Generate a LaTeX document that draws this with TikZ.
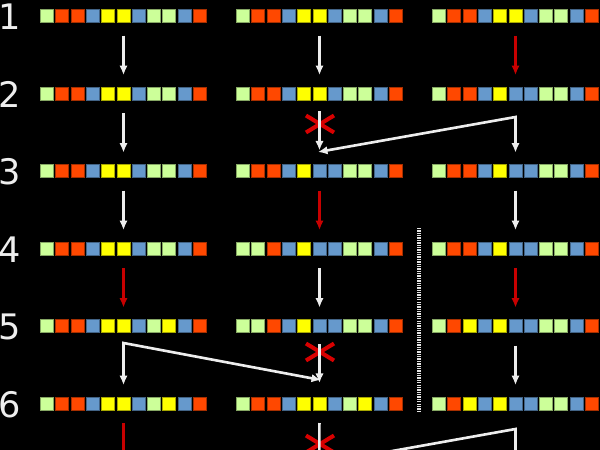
\documentclass[tikz,border=0pt]{standalone}
\usepackage{fontspec}
\setmainfont{DejaVu Sans}
\usetikzlibrary{arrows.meta}

\definecolor{cg}{HTML}{CCFF99}
\definecolor{cr}{HTML}{FF4800}
\definecolor{cb}{HTML}{6699CC}
\definecolor{cy}{HTML}{FFFF00}
\definecolor{flowred}{HTML}{C80000}
\definecolor{crossred}{HTML}{D80000}
\definecolor{lblgray}{HTML}{EEEEEE}

\tikzset{
  cell/.style={draw=#1!65!black, fill=#1, line width=0.5pt, minimum size=7.4pt, inner sep=0pt, outer sep=0pt},
  wflow/.style={draw=white!93!black, line width=1.5pt},
  rflow/.style={draw=flowred, line width=1.5pt},
  hop/.style={shorten <=7.4pt, shorten >=6.8pt},
  nogo/.style={draw=crossred, line width=2.3pt},
  sep/.style={draw=white!90!black, line width=2.4pt, dash pattern=on 0.75pt off 0.6pt},
  lbl/.style={text=lblgray, font=\fontsize{20pt}{24pt}\selectfont, inner sep=0pt}
}

% one register: name, left x, centre y, colours
\newcommand{\regrow}[4]{%
  \foreach \c [count=\i] in {#4}
    \node[cell=c\c] (#1-\i) at ({#2+15.3*(\i-1)+7}, #3) {};
}

\begin{document}
\begin{tikzpicture}[x=0.02cm, y=-0.02cm, >={Latex[length=5.4pt,width=4.8pt]}]

  % Background
  \useasboundingbox (0,0) rectangle (600,450);
  \clip (0,0) rectangle (600,450);
  \fill[black] (0,0) rectangle (600,450);

  % Step numbers
  \foreach \r in {1,...,6}
    \node[lbl] (l\r) at (9.5, {17+77.5*(\r-1)}) {\r};

  % Column 1
  \regrow{A1}{40}{16}{g,r,r,b,y,y,b,g,g,b,r}
  \regrow{A2}{40}{93.5}{g,r,r,b,y,y,b,g,g,b,r}
  \regrow{A3}{40}{171}{g,r,r,b,y,y,b,g,g,b,r}
  \regrow{A4}{40}{248.5}{g,r,r,b,y,y,b,g,g,b,r}
  \regrow{A5}{40}{326}{g,r,r,b,y,y,b,g,y,b,r}
  \regrow{A6}{40}{403.5}{g,r,r,b,y,y,b,g,y,b,r}

  % Column 2
  \regrow{B1}{236}{16}{g,r,r,b,y,y,b,g,g,b,r}
  \regrow{B2}{236}{93.5}{g,r,r,b,y,y,b,g,g,b,r}
  \regrow{B3}{236}{171}{g,r,r,b,y,b,b,g,g,b,r}
  \regrow{B4}{236}{248.5}{g,g,r,b,y,b,b,g,g,b,r}
  \regrow{B5}{236}{326}{g,g,r,b,y,b,b,g,g,b,r}
  \regrow{B6}{236}{403.5}{g,r,r,b,y,y,b,g,y,b,r}

  % Column 3
  \regrow{C1}{432}{16}{g,r,r,b,y,y,b,g,g,b,r}
  \regrow{C2}{432}{93.5}{g,r,r,b,y,b,b,g,g,b,r}
  \regrow{C3}{432}{171}{g,r,r,b,y,b,b,g,g,b,r}
  \regrow{C4}{432}{248.5}{g,r,r,b,y,b,b,g,g,b,r}
  \regrow{C5}{432}{326}{g,r,y,b,y,b,b,g,g,b,r}
  \regrow{C6}{432}{403.5}{g,r,y,b,y,b,b,g,g,b,r}

  % Separator
  \coordinate (d1) at (419,228);
  \coordinate (d2) at (419,411);
  \draw[sep] (d1) -- (d2);

  % Blocked steps
  \coordinate (x2) at (320,124);
  \coordinate (x5) at (320,352);
  \coordinate (x6) at (320,444);
  \foreach \x in {x2,x5,x6}
    \draw[nogo] (\x) +(-14,-8.5) -- +(14,8.5) +(-14,8.5) -- +(14,-8.5);

  % Corners of the split arrows and ends off the page
  \coordinate (k2) at (515.5,117);
  \coordinate (t2) at (318,152);
  \coordinate (k5) at (123.5,343);
  \coordinate (t5) at (321,380);
  \coordinate (k6) at (515.5,429);
  \coordinate (t6) at (319.5,464);
  \coordinate (A7) at (123.5,465);
  \coordinate (B7) at (319.3,465);
  \coordinate (C7) at (515.5,468);

  % 1 -> 2
  \draw[wflow,->,hop] (A1-6) -- (A2-6);
  \draw[wflow,->,hop] (B1-6) -- (B2-6);
  \draw[rflow,->,hop] (C1-6) -- (C2-6);
  % 2 -> 3
  \draw[wflow,->,hop] (A2-6) -- (A3-6);
  \draw[wflow,->,shorten <=6.5pt, shorten >=8pt] (B2-6) -- (B3-6);
  \draw[wflow,<->,shorten >=6.8pt] (t2) -- (k2) -- (C3-6);
  % 3 -> 4
  \draw[wflow,->,hop] (A3-6) -- (A4-6);
  \draw[rflow,->,hop] (B3-6) -- (B4-6);
  \draw[wflow,->,hop] (C3-6) -- (C4-6);
  % 4 -> 5
  \draw[rflow,->,hop] (A4-6) -- (A5-6);
  \draw[wflow,->,hop] (B4-6) -- (B5-6);
  \draw[rflow,->,hop] (C4-6) -- (C5-6);
  % 5 -> 6
  \draw[wflow,<->,shorten >=6.8pt] (t5) -- (k5) -- (A6-6);
  \draw[wflow,->,shorten <=6.5pt, shorten >=8pt] (B5-6) -- (B6-6);
  \draw[wflow,->,hop] (C5-6) -- (C6-6);
  % 6 -> 7
  \draw[rflow,->,shorten <=7.4pt] (A6-6) -- (A7);
  \draw[wflow,->,shorten <=7.4pt] (B6-6) -- (B7);
  \draw[wflow,<->] (t6) -- (k6) -- (C7);

\end{tikzpicture}
\end{document}
